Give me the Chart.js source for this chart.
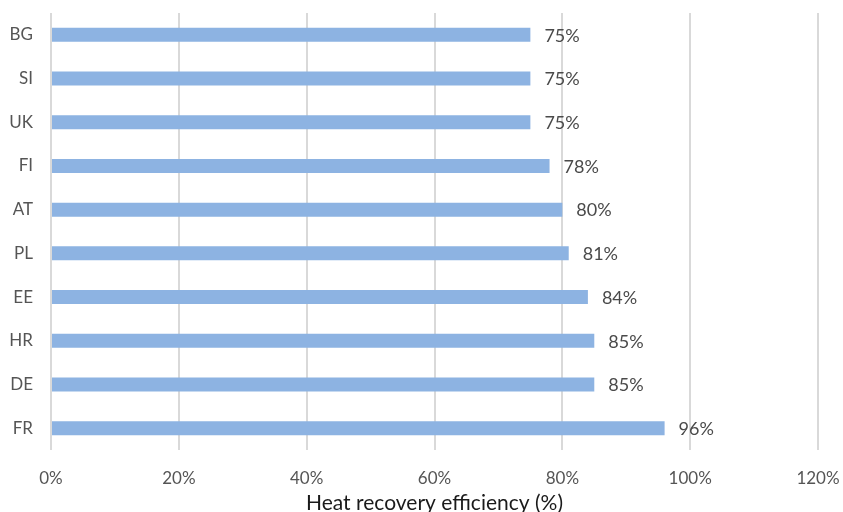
<!DOCTYPE html>
<html>
<head>
<meta charset="utf-8">
<script src="https://cdn.jsdelivr.net/npm/chart.js@4.4.1/dist/chart.umd.min.js"></script>
<style>
  html, body { margin: 0; padding: 0; background: #fff; overflow: hidden; }
  #wrap { width: 843px; height: 512px; position: relative; }
</style>
</head>
<body>
<div id="wrap"><canvas id="hre"></canvas></div>
<script>
// Countries, top to bottom
var countries = ['BG', 'SI', 'UK', 'FI', 'AT', 'PL', 'EE', 'HR', 'DE', 'FR'];
// Heat recovery efficiency, percent
var efficiency = [75, 75, 75, 78, 80, 81, 84, 85, 85, 96];
var axisMax = 120;
var axisStep = 20;

var FONT = 'Lato, "Open Sans", sans-serif';

// value labels drawn just past the bar ends
var valueLabels = {
    id: 'valueLabels',
    afterDatasetsDraw(chart) {
        const ctx = chart.ctx;
        const meta = chart.getDatasetMeta(0);
        ctx.save();
        ctx.font = '18px ' + FONT;
        ctx.fillStyle = '#4a4a4a';
        ctx.textAlign = 'left';
        ctx.textBaseline = 'middle';
        meta.data.forEach((bar, i) => {
            ctx.fillText(efficiency[i] + '%', bar.x + 14, bar.y + 1);
        });
        ctx.restore();
    }
};

// stop the scales from reserving room for overhanging tick labels
function noOverhang(scale) {
    scale.paddingTop = 0;
    scale.paddingBottom = 0;
    scale.paddingLeft = 0;
    scale.paddingRight = 0;
}

new Chart(document.getElementById('hre'), {
    type: 'bar',
    data: {
        labels: countries,
        datasets: [{
            data: efficiency,
            backgroundColor: '#8db3e2',
            borderWidth: 0,
            barPercentage: 0.64,
            categoryPercentage: 0.5
        }]
    },
    options: {
        indexAxis: 'y',
        responsive: true,
        maintainAspectRatio: false,
        animation: false,
        layout: { padding: { left: 0, right: 25, top: 13, bottom: 0 } },
        plugins: {
            legend: { display: false },
            tooltip: { enabled: false }
        },
        scales: {
            x: {
                min: 0,
                max: axisMax,
                ticks: {
                    stepSize: axisStep,
                    color: '#555',
                    font: { family: FONT, size: 17 },
                    padding: 18,
                    callback: v => v + '%'
                },
                grid: { color: '#d9d9d9', lineWidth: 2, drawTicks: false },
                border: { display: false },
                title: {
                    display: true,
                    text: 'Heat recovery efficiency (%)',
                    color: '#1a1a1a',
                    font: { family: FONT, size: 21, lineHeight: 1.0 },
                    padding: { top: 0, bottom: -2 }
                },
                afterFit(scale) { scale.height = 62; noOverhang(scale); }
            },
            y: {
                ticks: {
                    color: '#555',
                    font: { family: FONT, size: 17 },
                    padding: 18
                },
                grid: { display: false, drawTicks: false },
                border: { display: false },
                afterFit(scale) { scale.width = 51; noOverhang(scale); }
            }
        }
    },
    plugins: [valueLabels]
});
</script>
</body>
</html>
